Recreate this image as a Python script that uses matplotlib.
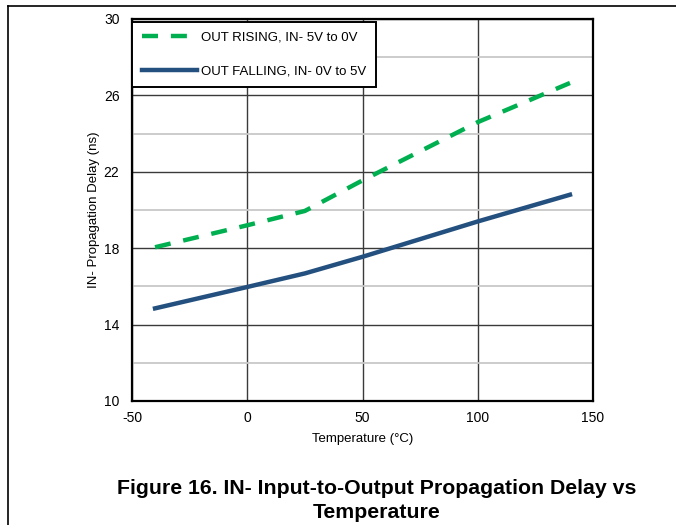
import matplotlib.pyplot as plt
from matplotlib.lines import Line2D
import numpy as np

plt.rcParams['font.family'] = ['Liberation Sans', 'DejaVu Sans']
plt.rcParams['axes.unicode_minus'] = False

temp = [-40, 0, 25, 50, 100, 140]
rising = [18.05, 19.2, 19.95, 21.55, 24.6, 26.65]
falling = [14.85, 15.97, 16.68, 17.55, 19.4, 20.8]

xticks = [-50, 0, 50, 100, 150]
yticks = [10, 14, 18, 22, 26, 30]
yminor = [12, 16, 20, 24, 28]

fig = plt.figure(figsize=(6.76, 5.25), dpi=100)
ax = fig.add_axes([132/676, 1 - 401/525, (593-132)/676, (401-19)/525])

ax.plot(temp, rising, color='#00B050', lw=3.2, dashes=(3.6, 2.9),
        label='OUT RISING, IN- 5V to 0V', zorder=3)
ax.plot(temp, falling, color='#23507F', lw=3.2,
        label='OUT FALLING, IN- 0V to 5V', zorder=3)

ax.set_xlim(-50, 150)
ax.set_ylim(10, 30)
ax.set_xticks(xticks)
ax.set_yticks(yticks)
ax.set_yticks(yminor, minor=True)
ax.grid(True, which='major', color='#3a3a3a', lw=1.0)
ax.grid(True, which='minor', axis='y', color='#c8c8c8', lw=1.3)
ax.tick_params(which='both', length=0, labelsize=10)
ax.tick_params(axis='y', pad=9)
ax.tick_params(axis='x', pad=7)
for s in ax.spines.values():
    s.set_linewidth(1.6)
    s.set_color('black')

ax.set_xlabel('Temperature (°C)', fontsize=9.5, labelpad=6)
ax.set_ylabel('IN- Propagation Delay (ns)', fontsize=9.5, labelpad=3)

leg = ax.legend(loc='upper left', bbox_to_anchor=(0.0, 0.993), fontsize=9.5,
                fancybox=False, framealpha=1, edgecolor='black',
                handlelength=4.2, handletextpad=0.3, labelspacing=1.6,
                borderaxespad=0.0, borderpad=0.75)
leg.get_frame().set_linewidth(1.4)

# page border lines
fig.add_artist(Line2D([8/676, 1], [1 - 6/525, 1 - 6/525], color='black', lw=1.2))
fig.add_artist(Line2D([8/676, 8/676], [0, 1 - 6/525], color='black', lw=1.2))

fig.text(377/676, 1 - 488/525, 'Figure 16. IN- Input-to-Output Propagation Delay vs',
         ha='center', va='center', fontsize=15.3, fontweight='bold')
fig.text(377/676, 1 - 512/525, 'Temperature',
         ha='center', va='center', fontsize=15.3, fontweight='bold')

fig.savefig('out.png', dpi=100)
